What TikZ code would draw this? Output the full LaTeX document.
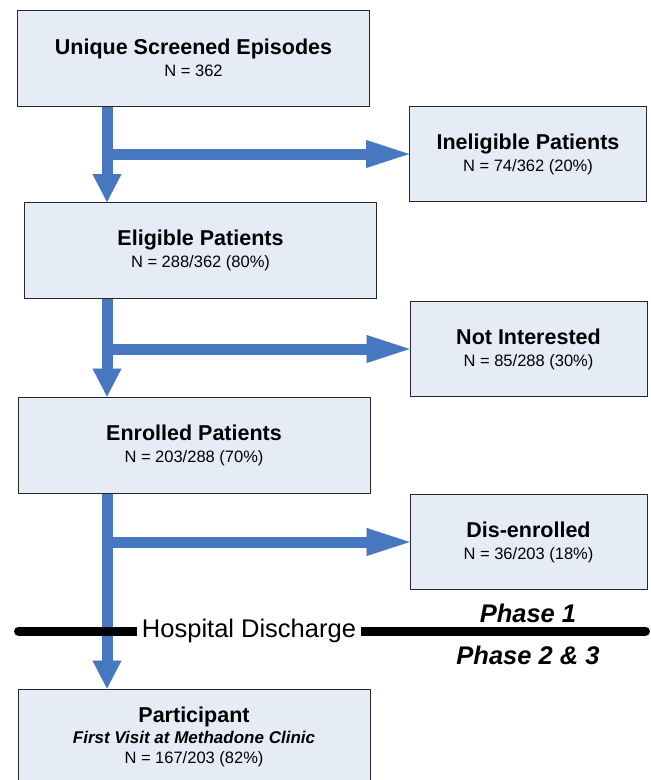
\documentclass[tikz,border=0pt]{standalone}
\usepackage{fontspec}
\setmainfont{Liberation Sans}
\usetikzlibrary{arrows.meta}
\definecolor{boxfill}{RGB}{230,236,246}
\definecolor{arrowblue}{RGB}{71,120,191}
\tikzset{
  box/.style={draw=black!85, line width=1pt, fill=boxfill, inner sep=0pt,
    minimum width=352pt, minimum height=96pt, align=center,
    font=\fontsize{16.5}{22}\selectfont},
  sidebox/.style={box, minimum width=237pt, minimum height=95pt},
  vflow/.style={line width=11pt, draw=arrowblue,
    -{Triangle[length=28pt,width=29pt,line width=0.1pt]}},
  hflow/.style={line width=11pt, draw=arrowblue,
    -{Triangle[length=43pt,width=28pt,line width=0.1pt]}},
  phase/.style={font=\bfseries\itshape\fontsize{25.5}{30}\selectfont, inner sep=0pt},
}
\newcommand{\ttlline}[1]{{\bfseries\fontsize{21.5}{22}\selectfont #1}}
\newcommand{\nline}[1]{{\fontsize{16.5}{22}\selectfont #1}}
\begin{document}
\begin{tikzpicture}[x=1pt,y=-1pt]
\clip (0,0) rectangle (651,780);
\fill[white] (0,0) rectangle (651,780);
% main column
\node[box] (scr) at (193.5,58) {\ttlline{Unique Screened Episodes}\\\nline{N = 362}};
\node[box] (elig) at (200.5,250.5) {\ttlline{Eligible Patients}\\\nline{N = 288/362 (80\%)}};
\node[box] (enr) at (194,445) {\ttlline{Enrolled Patients}\\\nline{N = 203/288 (70\%)}};
\node[box, font=\fontsize{16.5}{20}\selectfont] (part) at (194,737) {\ttlline{Participant}\\[1pt]{\bfseries\itshape\fontsize{17}{20}\selectfont First Visit at Methadone Clinic}\\\nline{N = 167/203 (82\%)}};
% side column
\node[sidebox] (inel) at (528,154) {\ttlline{Ineligible Patients}\\\nline{N = 74/362 (20\%)}};
\node[sidebox] (nint) at (528.5,349) {\ttlline{Not Interested}\\\nline{N = 85/288 (30\%)}};
\node[sidebox] (dis) at (528.5,542) {\ttlline{Dis-enrolled}\\\nline{N = 36/203 (18\%)}};
% shaft x position
\coordinate (sx) at (107,0);
% arrows
\draw[vflow] (scr.south -| sx) -- (elig.north -| sx);
\draw[hflow] (sx |- inel.west) -- (inel.west);
\draw[vflow] (elig.south -| sx) -- (enr.north -| sx);
\draw[hflow] (sx |- nint.west) -- (nint.west);
\draw[vflow] (enr.south -| sx) -- (part.north -| sx);
\draw[hflow] (sx |- dis.west) -- (dis.west);
% discharge line
\coordinate (dl) at (18.5,631);
\coordinate (dr) at (645.5,631);
\draw[line width=9pt, line cap=round] (dl) -- (dr);
\node[fill=white, inner xsep=5pt, inner ysep=2pt, font=\fontsize{25.5}{30}\selectfont] (hd) at (249,631) {Hospital Discharge};
\node[phase] (p1) at (528,613) {Phase 1};
\node[phase] (p23) at (528,655) {Phase 2 \& 3};
\end{tikzpicture}
\end{document}
